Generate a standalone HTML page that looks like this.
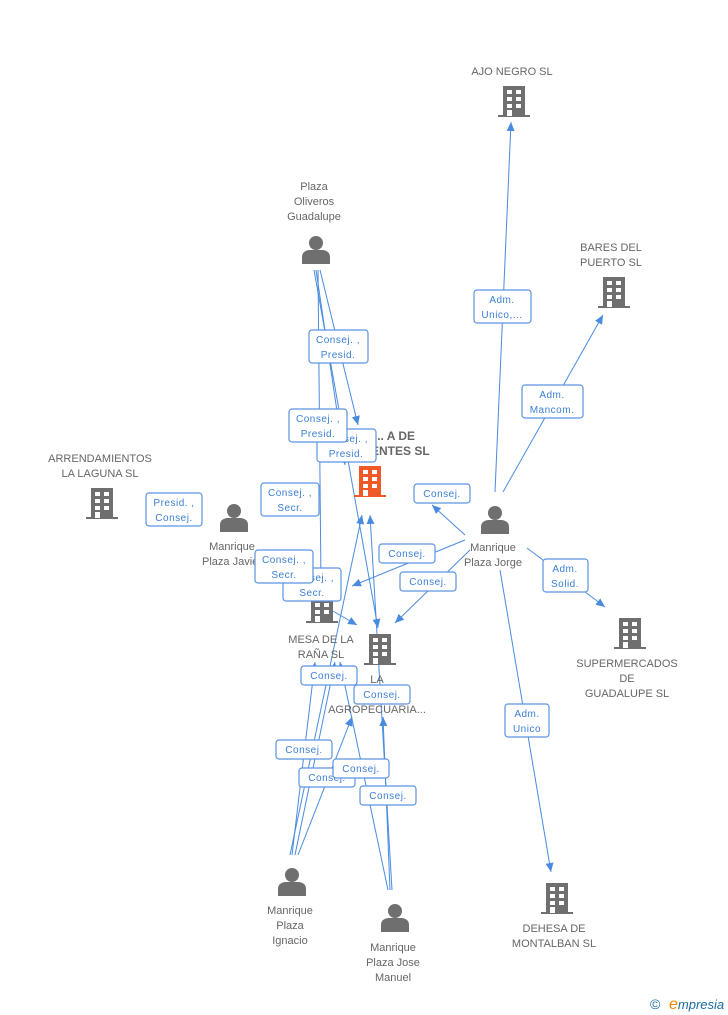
<!DOCTYPE html>
<html><head><meta charset="utf-8"><style>
body{margin:0;background:#fff;}
svg{display:block;font-family:"Liberation Sans",sans-serif;}
.l{font-size:11px;fill:#666;text-anchor:middle;}
.b{font-size:10px;fill:#3a7fd5;text-anchor:middle;letter-spacing:0.5px}
.e{stroke:#4a8be0;stroke-width:1;fill:none;}
.bx{fill:#fff;stroke:#5b93e0;stroke-width:1.2;}
</style></head><body>
<svg width="728" height="1015" viewBox="0 0 728 1015">
<defs>
<g id="bld"><rect x="-11" y="-15" width="22" height="30" fill="#6f6f6f"/><rect x="-16" y="14" width="32" height="2" fill="#6f6f6f"/>
<g fill="#fff"><rect x="-7" y="-11" width="5" height="4"/><rect x="2" y="-11" width="5" height="4"/><rect x="-7" y="-4" width="5" height="4"/><rect x="2" y="-4" width="5" height="4"/><rect x="-7" y="3" width="5" height="4"/><rect x="2" y="3" width="5" height="4"/><rect x="-7" y="9" width="5" height="6"/></g></g>
<g id="bldo"><rect x="-11" y="-15" width="22" height="30" fill="#f05a28"/><rect x="-16" y="14" width="32" height="2" fill="#f05a28"/>
<g fill="#fff"><rect x="-7" y="-11" width="5" height="4"/><rect x="2" y="-11" width="5" height="4"/><rect x="-7" y="-4" width="5" height="4"/><rect x="2" y="-4" width="5" height="4"/><rect x="-7" y="3" width="5" height="4"/><rect x="2" y="3" width="5" height="4"/><rect x="-7" y="9" width="5" height="6"/></g></g>
<g id="per" fill="#6f6f6f"><circle cx="0" cy="-7" r="7"/><path d="M-14 14 L-14 7 Q-14 1 -7 0 L7 0 Q14 1 14 7 L14 14 Z"/></g>
<marker id="a" markerWidth="10" markerHeight="10" refX="9" refY="5" orient="auto" markerUnits="userSpaceOnUse"><path d="M0 1 L9 5 L0 9 Z" fill="#4a8be0"/></marker>
</defs>

<g class="e" marker-end="url(#a)">
<line x1="495" y1="492" x2="511" y2="122"/>
<line x1="503" y1="492" x2="603" y2="315"/>
<line x1="527" y1="548" x2="605" y2="607"/>
<line x1="500" y1="570" x2="551" y2="872"/>
<line x1="465" y1="535" x2="432" y2="505"/>
<line x1="465" y1="540" x2="352" y2="586"/>
<line x1="470" y1="550" x2="395" y2="623"/>
<line x1="318" y1="270" x2="321" y2="583"/>
<line x1="320" y1="270" x2="358" y2="425"/>
<line x1="314" y1="270" x2="378" y2="628"/>
<line x1="316" y1="270" x2="345" y2="465"/>
<line x1="292" y1="855" x2="315" y2="662"/>
<line x1="295" y1="855" x2="335" y2="662"/>
<line x1="298" y1="855" x2="352" y2="717"/>
<line x1="290" y1="855" x2="362" y2="515"/>
<line x1="390" y1="890" x2="383" y2="717"/>
<line x1="392" y1="890" x2="370" y2="515"/>
<line x1="388" y1="890" x2="340" y2="662"/>
<line x1="288" y1="585" x2="357" y2="625"/>
</g>

<use href="#bld" x="514" y="101"/>
<use href="#bld" x="614" y="292"/>
<use href="#bld" x="102" y="503"/>
<use href="#bld" x="322" y="607"/>
<use href="#bld" x="380" y="649"/>
<use href="#bld" x="630" y="633"/>
<use href="#bld" x="557" y="898"/>
<use href="#bldo" x="370" y="481"/>
<use href="#per" x="316" y="250"/>
<use href="#per" x="234" y="518"/>
<use href="#per" x="495" y="520"/>
<use href="#per" x="292" y="882"/>
<use href="#per" x="395" y="918"/>

<text class="l" x="512" y="75">AJO NEGRO SL</text>
<text class="l" x="611" y="251">BARES DEL</text><text class="l" x="611" y="266">PUERTO SL</text>
<text class="l" x="314" y="190">Plaza</text><text class="l" x="314" y="205">Oliveros</text><text class="l" x="314" y="220">Guadalupe</text>
<text class="l" x="385" y="440" style="font-weight:bold;font-size:12px">LA ... A DE</text><text class="l" x="375" y="455" style="font-weight:bold;font-size:12px">VILLAFUENTES SL</text>
<text class="l" x="100" y="462">ARRENDAMIENTOS</text><text class="l" x="100" y="477">LA LAGUNA SL</text>
<text class="l" x="232" y="550">Manrique</text><text class="l" x="232" y="565">Plaza Javier</text>
<text class="l" x="493" y="551">Manrique</text><text class="l" x="493" y="566">Plaza Jorge</text>
<text class="l" x="321" y="643">MESA DE LA</text><text class="l" x="321" y="658">RAÑA SL</text>
<text class="l" x="377" y="683">LA</text><text class="l" x="377" y="698">D...</text><text class="l" x="377" y="713">AGROPECUARIA...</text>
<text class="l" x="627" y="667">SUPERMERCADOS</text><text class="l" x="627" y="682">DE</text><text class="l" x="627" y="697">GUADALUPE SL</text>
<text class="l" x="554" y="932">DEHESA DE</text><text class="l" x="554" y="947">MONTALBAN SL</text>
<text class="l" x="290" y="914">Manrique</text><text class="l" x="290" y="929">Plaza</text><text class="l" x="290" y="944">Ignacio</text>
<text class="l" x="393" y="951">Manrique</text><text class="l" x="393" y="966">Plaza Jose</text><text class="l" x="393" y="981">Manuel</text>

<g>
<rect class="bx" x="474" y="290" width="57" height="33" rx="3"/><text class="b" x="502" y="303">Adm.</text><text class="b" x="502" y="318">Unico,...</text>
<rect class="bx" x="522" y="385" width="61" height="33" rx="3"/><text class="b" x="552" y="398">Adm.</text><text class="b" x="552" y="413">Mancom.</text>
<rect class="bx" x="309" y="330" width="59" height="33" rx="3"/><text class="b" x="338" y="343">Consej. ,</text><text class="b" x="338" y="358">Presid.</text>
<rect class="bx" x="317" y="429" width="59" height="33" rx="3"/><text class="b" x="346" y="442">Consej. ,</text><text class="b" x="346" y="457">Presid.</text>
<rect class="bx" x="289" y="409" width="58" height="33" rx="3"/><text class="b" x="318" y="422">Consej. ,</text><text class="b" x="318" y="437">Presid.</text>
<rect class="bx" x="146" y="493" width="56" height="33" rx="3"/><text class="b" x="174" y="506">Presid. ,</text><text class="b" x="174" y="521">Consej.</text>
<rect class="bx" x="261" y="483" width="58" height="33" rx="3"/><text class="b" x="290" y="496">Consej. ,</text><text class="b" x="290" y="511">Secr.</text>
<rect class="bx" x="414" y="484" width="56" height="19" rx="3"/><text class="b" x="442" y="497">Consej.</text>
<rect class="bx" x="379" y="544" width="56" height="19" rx="3"/><text class="b" x="407" y="557">Consej.</text>
<rect class="bx" x="400" y="572" width="56" height="19" rx="3"/><text class="b" x="428" y="585">Consej.</text>
<rect class="bx" x="283" y="568" width="58" height="33" rx="3"/><text class="b" x="312" y="581">Consej. ,</text><text class="b" x="312" y="596">Secr.</text>
<rect class="bx" x="255" y="550" width="58" height="33" rx="3"/><text class="b" x="284" y="563">Consej. ,</text><text class="b" x="284" y="578">Secr.</text>
<rect class="bx" x="543" y="559" width="45" height="33" rx="3"/><text class="b" x="565" y="572">Adm.</text><text class="b" x="565" y="587">Solid.</text>
<rect class="bx" x="301" y="666" width="56" height="19" rx="3"/><text class="b" x="329" y="679">Consej.</text>
<rect class="bx" x="354" y="685" width="56" height="19" rx="3"/><text class="b" x="382" y="698">Consej.</text>
<rect class="bx" x="276" y="740" width="56" height="19" rx="3"/><text class="b" x="304" y="753">Consej.</text>
<rect class="bx" x="299" y="768" width="56" height="19" rx="3"/><text class="b" x="327" y="781">Consej.</text>
<rect class="bx" x="333" y="759" width="56" height="19" rx="3"/><text class="b" x="361" y="772">Consej.</text>
<rect class="bx" x="360" y="786" width="56" height="19" rx="3"/><text class="b" x="388" y="799">Consej.</text>
<rect class="bx" x="505" y="704" width="44" height="33" rx="3"/><text class="b" x="527" y="717">Adm.</text><text class="b" x="527" y="732">Unico</text>
</g>

<text x="650" y="1009" style="font-size:14px;fill:#1b6aa5">©</text>
<text x="669" y="1009" style="font-size:13px;fill:#1b6aa5;font-style:italic"><tspan fill="#f08a00" font-size="16">e</tspan>mpresia</text>
</svg>
</body></html>
